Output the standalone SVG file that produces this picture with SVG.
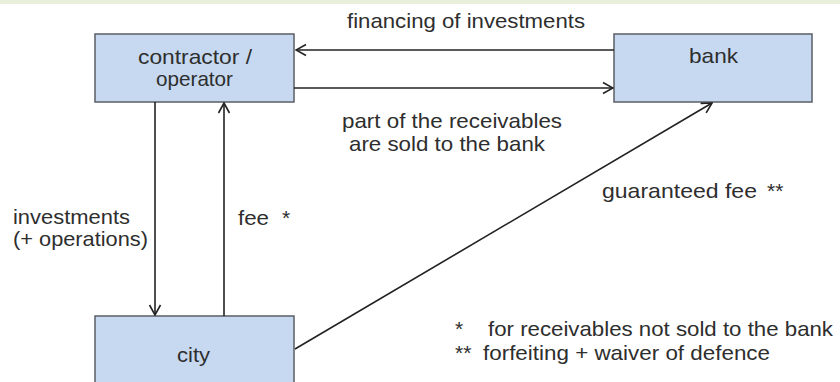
<svg xmlns="http://www.w3.org/2000/svg" width="840" height="382" viewBox="0 0 840 382">
<style>
.box{fill:#c6d9f0;stroke:#5a5f66;stroke-width:1.5}
.t{font-family:"Liberation Sans",Arial,sans-serif;font-size:21px;fill:#2e2e2e}
.c{stroke:#222;stroke-width:1.6;fill:none}
</style>
<defs>
<marker id="ah" markerWidth="12" markerHeight="14" refX="11" refY="7" orient="auto" markerUnits="userSpaceOnUse">
<path d="M1,1.5 L11,7 L1,12.5" fill="none" stroke="#222" stroke-width="1.6"/>
</marker>
</defs>
<rect x="0" y="0" width="840" height="382" fill="#ffffff"/>
<rect x="0" y="0" width="840" height="4" fill="#e8efdb"/>
<g id="contractor">
<rect class="box" x="95" y="34" width="199" height="68"/>
<text class="t" x="138" y="64" textLength="114" lengthAdjust="spacingAndGlyphs">contractor /</text>
<text class="t" x="156" y="86" textLength="77" lengthAdjust="spacingAndGlyphs">operator</text>
</g>
<g id="bank">
<rect class="box" x="614" y="34" width="198" height="68"/>
<text class="t" x="689" y="63" textLength="49" lengthAdjust="spacingAndGlyphs">bank</text>
</g>
<g id="city">
<rect class="box" x="95" y="316" width="199" height="80"/>
<text class="t" x="177" y="362" textLength="33" lengthAdjust="spacingAndGlyphs">city</text>
</g>
<g id="connectors">
<line class="c" x1="614" y1="50" x2="296" y2="50" marker-end="url(#ah)"/>
<line class="c" x1="294" y1="88" x2="613" y2="88" marker-end="url(#ah)"/>
<line class="c" x1="155" y1="102" x2="155" y2="315" marker-end="url(#ah)"/>
<line class="c" x1="224" y1="316" x2="224" y2="103" marker-end="url(#ah)"/>
<line class="c" x1="295" y1="349" x2="712" y2="103" marker-end="url(#ah)"/>
</g>
<g id="labels">
<text class="t" x="347" y="28" textLength="238" lengthAdjust="spacingAndGlyphs">financing of investments</text>
<text class="t" x="342" y="128" textLength="220" lengthAdjust="spacingAndGlyphs">part of the receivables</text>
<text class="t" x="349" y="151" textLength="196" lengthAdjust="spacingAndGlyphs">are sold to the bank</text>
<text class="t" x="13" y="224" textLength="117" lengthAdjust="spacingAndGlyphs">investments</text>
<text class="t" x="13" y="246" textLength="135" lengthAdjust="spacingAndGlyphs">(+ operations)</text>
<text class="t" x="238" y="225" textLength="31" lengthAdjust="spacingAndGlyphs">fee</text>
<text class="t" x="282" y="225">*</text>
<text class="t" x="602" y="198" textLength="155" lengthAdjust="spacingAndGlyphs">guaranteed fee</text>
<text class="t" x="767" y="198">**</text>
</g>
<g id="footnotes">
<text class="t" x="455" y="336">*</text>
<text class="t" x="488" y="336" textLength="345" lengthAdjust="spacingAndGlyphs">for receivables not sold to the bank</text>
<text class="t" x="455" y="360">**</text>
<text class="t" x="483" y="360" textLength="287" lengthAdjust="spacingAndGlyphs">forfeiting + waiver of defence</text>
</g>
</svg>
